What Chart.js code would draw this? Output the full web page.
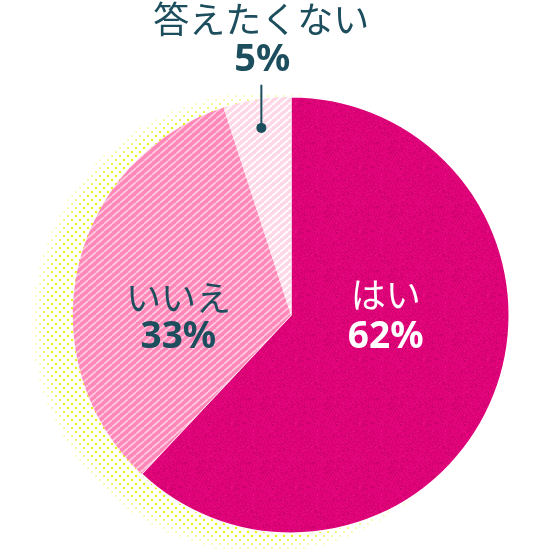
<!DOCTYPE html>
<html>
<head>
<meta charset="utf-8">
<script src="https://cdn.jsdelivr.net/npm/chart.js@4"></script>
<style>
html,body{margin:0;padding:0;background:#fff;}
canvas{display:block;}
</style>
</head>
<body>
<canvas id="c" width="550" height="550"></canvas>
<script>
// ---- data ----
const categories = ['はい', 'いいえ', '答えたくない'];
const values = [62, 33, 5];
const valueLabels = ['62%', '33%', '5%'];

// ---- styles ----
const TEXT_DARK = '#1c4e5d';
const MAGENTA = '#e0037a';

const ctx = document.getElementById('c').getContext('2d');

function makeTile(w, h, draw) {
  const c = document.createElement('canvas');
  c.width = w; c.height = h;
  const g = c.getContext('2d');
  draw(g, w, h);
  return c;
}
// diagonal "/" stripes: lines x/W + y/H = k
function stripePattern(base, line, W, H, lw) {
  const c = makeTile(W, H, (g, w, h) => {
    g.fillStyle = base; g.fillRect(0, 0, w, h);
    g.strokeStyle = line; g.lineWidth = lw;
    g.beginPath();
    for (let k = -1; k <= 3; k++) {
      g.moveTo((k - 1) * w, h);
      g.lineTo(k * w, 0);
    }
    g.stroke();
  });
  return ctx.createPattern(c, 'repeat');
}
function noisePattern(base) {
  const c = makeTile(64, 64, (g, s) => {
    g.fillStyle = base; g.fillRect(0, 0, s, s);
    for (let y = 0; y < s; y++) for (let x = 0; x < s; x++) {
      const v = Math.sin(x * 12.9898 + y * 78.233) * 43758.5453;
      const h = v - Math.floor(v);
      if (h < 0.2) { g.fillStyle = 'rgba(140,0,60,0.25)'; g.fillRect(x, y, 1, 1); }
      else if (h > 0.95) { g.fillStyle = 'rgba(255,80,160,0.18)'; g.fillRect(x, y, 1, 1); }
    }
  });
  return ctx.createPattern(c, 'repeat');
}

const fills = [
  noisePattern(MAGENTA),
  stripePattern('#ff88b8', 'rgba(255,205,226,0.95)', 8, 7, 1.7),
  stripePattern('#ffd8e7', '#ffffff', 8, 7, 1.8)
];

// label layout (relative to pie centre, in units of radius)
const labelLayout = [
  { dx: 0.434, nameDy: -0.095, valDy: 0.105, color: '#ffffff' },
  { dx: -0.516, nameDy: -0.078, valDy: 0.105, color: TEXT_DARK }
];

const halftone = {
  id: 'halftone',
  beforeDatasetsDraw(chart) {
    const arc = chart.getDatasetMeta(0).data[0];
    const { x, y, outerRadius: r } = arc.getProps(['x', 'y', 'outerRadius'], true);
    const sx = x - 0.13 * r, sy = y + 0.035 * r, R = 1.055 * r;
    const c = chart.ctx;
    c.save();
    const step = 4;
    let row = 0;
    for (let py = Math.floor(sy - R); py <= sy + R; py += step, row++) {
      const off = (row % 2) * 4;
      for (let px = Math.floor(sx - R) + off; px <= sx + R; px += 8) {
        const d = Math.hypot(px - sx, py - sy);
        if (d > R) continue;
        if (Math.hypot(px - x, py - y) < r - 1) continue;
        const t = Math.min(1, Math.max(0, (R - d) / 16));
        const s = 1.2 + 1.1 * t;
        c.fillStyle = 'rgba(234,245,25,' + (0.5 + 0.5 * t) + ')';
        c.fillRect(px - s / 2, py - s / 2, s, s);
      }
    }
    c.restore();
  }
};

const labels = {
  id: 'labels',
  afterDatasetsDraw(chart) {
    const meta = chart.getDatasetMeta(0);
    const c = chart.ctx;
    const a0 = meta.data[0];
    const { x, y, outerRadius: r } = a0.getProps(['x', 'y', 'outerRadius'], true);
    c.save();
    c.textAlign = 'center';
    c.textBaseline = 'middle';
    labelLayout.forEach((L, i) => {
      c.fillStyle = L.color;
      c.font = '400 35px "Noto Sans CJK JP"';
      c.fillText(categories[i], x + L.dx * r, y + L.nameDy * r);
      c.font = 'bold 37px "Noto Sans", "Noto Sans CJK JP"';
      c.fillText(valueLabels[i], x + L.dx * r, y + L.valDy * r);
    });
    // small slice: leader line to outside label
    const a2 = meta.data[2];
    const p = a2.getProps(['startAngle', 'endAngle'], true);
    const mid = (p.startAngle + p.endAngle) / 2;
    const dx = x + Math.cos(mid) * 0.868 * r;
    const dy = y + Math.sin(mid) * 0.868 * r;
    const topY = y - r;
    c.strokeStyle = TEXT_DARK;
    c.lineWidth = 2;
    c.beginPath();
    c.moveTo(dx, dy);
    c.lineTo(dx, topY - 12);
    c.stroke();
    c.fillStyle = TEXT_DARK;
    c.beginPath();
    c.arc(dx, dy, 5, 0, Math.PI * 2);
    c.fill();
    c.font = 'bold 38px "Noto Sans", "Noto Sans CJK JP"';
    c.fillText(valueLabels[2], dx + 1, topY - 37);
    c.font = '400 36px "Noto Sans CJK JP"';
    c.fillText(categories[2], dx, topY - 77);
    c.restore();
  }
};

new Chart(ctx, {
  type: 'pie',
  data: {
    labels: categories,
    datasets: [{
      data: values,
      backgroundColor: fills,
      borderColor: ['#ffffff', '#ffffff', '#ffffff'],
      borderWidth: [1.5, 0, 0]
    }]
  },
  options: {
    responsive: false,
    animation: false,
    layout: { padding: { left: 72, right: 40, top: 96, bottom: 16 } },
    plugins: { legend: { display: false }, tooltip: { enabled: false } },
    events: []
  },
  plugins: [halftone, labels]
});
</script>
</body>
</html>
